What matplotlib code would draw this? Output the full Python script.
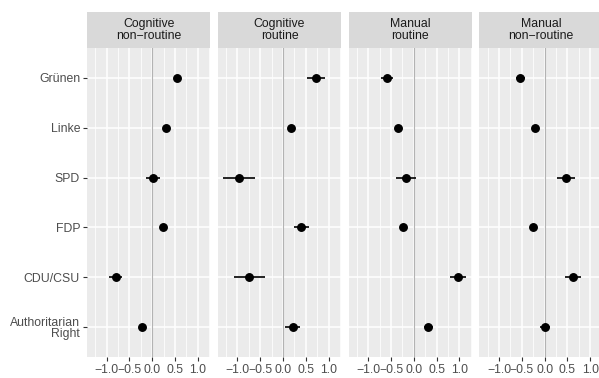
import matplotlib.pyplot as plt

plt.rcParams['font.family'] = ['Liberation Sans', 'DejaVu Sans']

parties = ["Grünen", "Linke", "SPD", "FDP", "CDU/CSU", "Authoritarian\nRight"]
facets = ["Cognitive\nnon\u2212routine", "Cognitive\nroutine", "Manual\nroutine", "Manual\nnon\u2212routine"]

# point estimates per facet (same order as parties)
estimates = [
    [0.55, 0.31, 0.01, 0.23, -0.80, -0.23],
    [0.72, 0.18, -0.96, 0.40, -0.74, 0.21],
    [-0.59, -0.35, -0.18, -0.24, 0.97, 0.32],
    [-0.54, -0.22, 0.47, -0.26, 0.62, 0.01],
]
# half width of the intervals
errors = [
    [0.05, 0.04, 0.15, 0.04, 0.14, 0.05],
    [0.19, 0.08, 0.35, 0.16, 0.34, 0.17],
    [0.13, 0.04, 0.22, 0.05, 0.18, 0.10],
    [0.10, 0.04, 0.19, 0.04, 0.18, 0.11],
]
xticks = [-1.0, -0.5, 0.0, 0.5, 1.0]
xminor = [-1.25, -0.75, -0.25, 0.25, 0.75, 1.25]

W, H = 599, 378
fig = plt.figure(figsize=(W / 100, H / 100), dpi=100)

ypos = list(range(len(parties)))
panel_w = 123.3
for i, name in enumerate(facets):
    left = 87 + i * 130.8
    ax = fig.add_axes([left / W, 21 / H, panel_w / W, 309 / H])
    ax.set_facecolor('#EBEBEB')
    for s in ax.spines.values():
        s.set_visible(False)
    ax.set_xlim(-1.432, 1.272)
    ax.set_ylim(len(parties) - 0.4, -0.6)
    ax.set_xticks(xticks)
    ax.set_xticks(xminor, minor=True)
    ax.set_yticks(ypos)
    ax.set_xticklabels([f"{t:.1f}".replace('-', '\u2212') for t in xticks])
    ax.grid(True, which='major', color='white', lw=1.1)
    ax.grid(True, which='minor', axis='x', color='white', lw=0.55)
    ax.set_axisbelow(True)
    ax.axvline(0, color='#B3B3B3', lw=0.8, zorder=1.5)
    ax.errorbar(estimates[i], ypos, xerr=errors[i], fmt='o', color='black',
                ms=5.4, elinewidth=1.2, capsize=0, zorder=3)
    ax.tick_params(axis='both', which='major', length=2.75, width=0.8, pad=2.2,
                   color='#333333', labelsize=8.8, labelcolor='#4D4D4D')
    ax.tick_params(axis='x', which='minor', length=0)
    if i == 0:
        ax.set_yticklabels(parties)
        for lbl in ax.get_yticklabels():
            lbl.set_multialignment('right')
            lbl.set_linespacing(0.95)
    else:
        ax.tick_params(axis='y', length=0, labelleft=False)

    # facet strip
    sx = fig.add_axes([left / W, 330 / H, panel_w / W, 36 / H])
    sx.set_facecolor('#D9D9D9')
    sx.set_xticks([])
    sx.set_yticks([])
    for s in sx.spines.values():
        s.set_visible(False)
    sx.text(0.5, 0.5, name, ha='center', va='center', fontsize=8.8,
            color='#1A1A1A', linespacing=0.95, transform=sx.transAxes)

fig.savefig('out.png', dpi=100)
